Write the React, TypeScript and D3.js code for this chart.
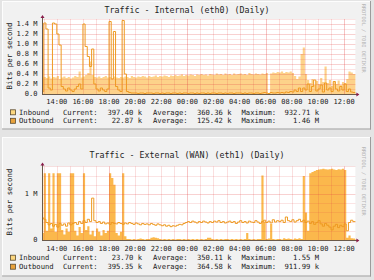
import React from "react";
import * as d3 from "d3";

// ---------- data (Mbit/s, 10‑minute samples starting 12:50) ----------
const SAMPLE_START_H = 12 + 50 / 60;
const SAMPLE_STEP_H = 1 / 6;
const VIEW_START_H = 12 + 52 / 60;
const VIEW_END_H = VIEW_START_H + 24;

const inInternal = [
  0.33, 0.34, 0.32, 0.35, 0.31, 0.34, 0.33,
  0.36, 0.30, 0.33, 0.35, 0.32, 0.34,
  0.31, 0.33, 0.36, 0.34, 0.45, 0.33,
  0.35, 0.38, 0.42, 0.65, 0.38, 0.34,
  0.33, 0.35, 0.32, 0.34, 0.36, 0.33,
  0.34, 0.31, 0.35, 0.33, 0.32, 0.34,
  0.33, 0.35, 0.34, 0.32, 0.36, 0.34,
  0.33, 0.35, 0.34, 0.36, 0.35, 0.33,
  0.36, 0.34, 0.35, 0.37, 0.34, 0.36,
  0.35, 0.37, 0.36, 0.34, 0.37, 0.36,
  0.38, 0.36, 0.37, 0.39, 0.36, 0.38,
  0.37, 0.39, 0.38, 0.36, 0.39, 0.38,
  0.40, 0.38, 0.39, 0.37, 0.40, 0.39,
  0.38, 0.41, 0.39, 0.40, 0.38, 0.41,
  0.39, 0.40, 0.38, 0.41, 0.39, 0.40,
  0.41, 0.39, 0.40, 0.38, 0.42, 0.40,
  0.39, 0.41, 0.40, 0.39, 0.41, 0.40,
  0.42, 0.00, 0.41, 0.43, 0.42, 0.44,
  0.43, 0.45, 0.42, 0.44, 0.43, 0.45,
  0.42, 0.36, 0.30, 0.35, 0.80, 0.93,
  0.40, 0.28, 0.22, 0.30, 0.18, 0.26,
  0.20, 0.32, 0.24, 0.55, 0.22, 0.28,
  0.16, 0.25, 0.20, 0.27, 0.18, 0.24,
  0.22, 0.30, 0.45, 0.43, 0.40, 0.40,
];

const outInternal = [
  0.05, 1.42, 1.30, 0.12, 0.08, 1.42, 1.40,
  1.20, 0.98, 0.15, 0.10, 0.06, 0.12,
  0.08, 0.05, 0.10, 0.15, 0.20, 0.10,
  1.40, 0.95, 0.75, 0.55, 0.90, 0.20,
  0.10, 0.06, 0.12, 0.08, 0.05, 0.10,
  1.45, 0.30, 1.25, 0.15, 0.08, 0.05,
  1.47, 0.40, 0.05, 0.03, 0.02, 0.02,
  0.02, 0.01, 0.02, 0.02, 0.01, 0.02,
  0.02, 0.02, 0.01, 0.02, 0.02, 0.01,
  0.02, 0.01, 0.02, 0.02, 0.01, 0.02,
  0.02, 0.01, 0.02, 0.01, 0.02, 0.02,
  0.01, 0.02, 0.02, 0.01, 0.02, 0.01,
  0.02, 0.02, 0.01, 0.02, 0.01, 0.02,
  0.02, 0.01, 0.02, 0.02, 0.01, 0.02,
  0.01, 0.02, 0.02, 0.01, 0.02, 0.02,
  0.02, 0.01, 0.02, 0.01, 0.02, 0.02,
  0.01, 0.02, 0.02, 0.01, 0.02, 0.03,
  0.02, 0.01, 0.03, 0.02, 0.02, 0.03,
  0.02, 0.03, 0.02, 0.04, 0.03, 0.05,
  0.04, 0.08, 0.05, 0.12, 0.05, 0.12,
  0.08, 0.20, 0.05, 0.15, 0.28, 0.06,
  0.10, 0.18, 0.04, 0.22, 0.08, 0.12,
  0.05, 0.25, 0.10, 0.06, 0.15, 0.08,
  0.20, 0.05, 0.10, 0.04, 0.03, 0.02,
];

const inWan = [
  0.15, 1.45, 0.20, 1.45, 0.25, 1.45, 0.18,
  1.45, 1.45, 0.22, 0.12, 0.25, 0.18,
  1.45, 1.45, 0.20, 0.10, 0.28, 0.15,
  1.45, 0.22, 0.30, 0.12, 0.20, 0.08,
  0.25, 0.18, 0.10, 0.22, 0.15, 0.20,
  1.45, 1.35, 1.20, 0.15, 0.10, 0.18,
  1.45, 0.08, 0.02, 0.02, 0.01, 0.02,
  0.01, 0.02, 0.03, 0.02, 0.01, 0.02,
  0.02, 0.05, 0.06, 0.05, 0.04, 0.02,
  0.01, 0.02, 0.01, 0.02, 0.01, 0.02,
  0.01, 0.02, 0.02, 0.01, 0.02, 0.01,
  0.02, 0.01, 0.02, 0.01, 0.02, 0.01,
  0.02, 0.01, 0.02, 0.05, 0.05, 0.02,
  0.01, 0.02, 0.01, 0.02, 0.01, 0.02,
  0.02, 0.01, 0.02, 0.01, 0.02, 0.01,
  0.02, 0.01, 0.02, 0.15, 0.02, 0.01,
  0.02, 0.01, 0.02, 0.02, 1.40, 0.40,
  0.02, 0.03, 0.35, 0.02, 0.01, 0.02,
  0.02, 0.01, 0.04, 0.02, 0.03, 0.02,
  0.01, 0.03, 0.02, 0.04, 0.02, 1.39,
  0.60, 0.20, 1.45, 1.48, 1.50, 1.52,
  1.53, 1.54, 1.55, 1.54, 1.53, 1.54,
  1.55, 1.53, 1.52, 1.54, 1.53, 1.55,
  1.52, 0.05, 0.10, 0.04, 0.03, 0.02,
];

const outWan = [
  0.48, 0.45, 0.38, 0.33, 0.36, 0.30, 0.34,
  0.28, 0.36, 0.32, 0.35, 0.30, 0.37,
  0.33, 0.36, 0.38, 0.34, 0.40, 0.36,
  0.42, 0.38, 0.45, 0.40, 0.91, 0.42,
  0.38, 0.40, 0.36, 0.39, 0.35, 0.37,
  0.34, 0.38, 0.36, 0.35, 0.38, 0.36,
  0.34, 0.37, 0.35, 0.38, 0.36, 0.34,
  0.37, 0.35, 0.33, 0.36, 0.34, 0.35,
  0.33, 0.36, 0.34, 0.32, 0.35, 0.33,
  0.31, 0.33, 0.30, 0.32, 0.29, 0.31,
  0.30, 0.32, 0.34, 0.33, 0.36, 0.38,
  0.40, 0.38, 0.41, 0.39, 0.37, 0.40,
  0.38, 0.41, 0.39, 0.37, 0.40, 0.38,
  0.41, 0.39, 0.42, 0.38, 0.40, 0.37,
  0.39, 0.41, 0.38, 0.40, 0.36, 0.39,
  0.42, 0.38, 0.40, 0.37, 0.41, 0.39,
  0.38, 0.42, 0.39, 0.36, 0.40, 0.43,
  0.38, 0.41, 0.37, 0.44, 0.39, 0.42,
  0.40, 0.43, 0.38, 0.50, 0.42, 0.40,
  0.44, 0.39, 0.42, 0.45, 0.40, 0.43,
  0.38, 0.41, 0.36, 0.40, 0.34, 0.38,
  0.42, 0.35, 0.30, 0.36, 0.32, 0.28,
  0.22, 0.30, 0.34, 0.27, 0.32, 0.29,
  0.35, 0.20, 0.38, 0.43, 0.40, 0.40,
];

const xLabelHours = [14, 16, 18, 20, 22, 24, 26, 28, 30, 32, 34, 36];
const xLabelTexts = ["14:00", "16:00", "18:00", "20:00", "22:00", "00:00", "02:00", "04:00", "06:00", "08:00", "10:00", "12:00"];

const yTickValsInternal = [0, 0.2, 0.4, 0.6, 0.8, 1.0, 1.2, 1.4];
const yTickTextsInternal = ["0.0", "0.2 M", "0.4 M", "0.6 M", "0.8 M", "1.0 M", "1.2 M", "1.4 M"];
const yTickValsWan = [0, 1];
const yTickTextsWan = ["0", "1 M"];

const legendNames = ["Inbound", "Outbound"];
const legendInternal = [
  ["397.40 k", "360.36 k", "932.71 k"],
  ["22.87 k", "125.42 k", "1.46 M"],
];
const legendWan = [
  ["23.70 k", "350.11 k", "1.55 M"],
  ["395.35 k", "364.58 k", "911.99 k"],
];

// ---------- drawing ----------
const MONO = "'DejaVu Sans Mono', 'Liberation Mono', monospace";
const PLOT_L = 42;
const PLOT_R = 355.4;

const xScale = d3.scaleLinear().domain([VIEW_START_H, VIEW_END_H]).range([PLOT_L, PLOT_R]);

type PanelCfg = {
  id: string;
  title: string;
  frameTop: number;
  frameBottom: number;
  plotTop: number;
  plotBottom: number;
  yMax: number;
  minorStep: number;
  majorStep: number;
  yTickVals: number[];
  yTickTexts: string[];
  inData: number[];
  outData: number[];
  inColor: string;
  titleY: number;
  xLabelY: number;
  legendY: number[];
  legendVals: string[][];
  wmY: number;
  yLabelCY: number;
};

function Panel({ c }: { c: PanelCfg }) {
  const y = d3.scaleLinear().domain([0, c.yMax]).range([c.plotBottom, c.plotTop]);
  const pts = (arr: number[]) => {
    const p = arr.map((v, i) => [SAMPLE_START_H + i * SAMPLE_STEP_H, v] as [number, number]);
    p.push([SAMPLE_START_H + arr.length * SAMPLE_STEP_H, arr[arr.length - 1]]);
    return p;
  };
  const area = d3
    .area<[number, number]>()
    .x((d) => xScale(d[0]))
    .y0(c.plotBottom)
    .y1((d) => y(d[1]))
    .curve(d3.curveStepAfter);
  const line = d3
    .line<[number, number]>()
    .x((d) => xScale(d[0]))
    .y((d) => y(d[1]))
    .curve(d3.curveStepAfter);

  const minorY = d3.range(c.minorStep, c.yMax + 1e-9, c.minorStep);
  const hours = d3.range(Math.ceil(VIEW_START_H), VIEW_END_H, 1);

  const legendCols = [63, 153, 241.5];
  const legendHead = ["Current:", "Average:", "Maximum:"];
  const valueRight = [142, 231.5, 319];
  const sqColors = ["#FCD77F", "#E9A23B"];

  return (
    <g>
      <rect x={2} y={c.frameTop} width={369} height={c.frameBottom - c.frameTop} fill="#F1F1F1" />
      <line x1={2} y1={c.frameTop + 0.5} x2={371} y2={c.frameTop + 0.5} stroke="#FDFDFD" />
      <line x1={2.5} y1={c.frameTop} x2={2.5} y2={c.frameBottom} stroke="#FDFDFD" />
      <line x1={2} y1={c.frameBottom - 0.5} x2={371} y2={c.frameBottom - 0.5} stroke="#9C9C9C" />
      <line x1={370.5} y1={c.frameTop} x2={370.5} y2={c.frameBottom} stroke="#9C9C9C" />

      <text x={187} y={c.titleY} fontFamily={MONO} fontSize={8.3} textAnchor="middle" fill="#222">
        {c.title}
      </text>

      <rect x={PLOT_L} y={c.plotTop} width={PLOT_R - PLOT_L} height={c.plotBottom - c.plotTop} fill="#FFFFFF" />
      <defs>
        <clipPath id={"clip-" + c.id}>
          <rect x={PLOT_L} y={c.plotTop - 1} width={PLOT_R - PLOT_L} height={c.plotBottom - c.plotTop + 1} />
        </clipPath>
      </defs>

      <g clipPath={`url(#clip-${c.id})`}>
        <path d={area(pts(c.inData)) || ""} fill={c.inColor} />
      </g>

      {/* grid (drawn over the area, translucent) */}
      {hours.map((h) => (
        <line
          key={"v" + h}
          x1={Math.round(xScale(h)) + 0.5}
          x2={Math.round(xScale(h)) + 0.5}
          y1={c.plotTop}
          y2={c.plotBottom}
          stroke="#E04040"
          strokeOpacity={h % 6 === 0 ? 0.3 : 0.17}
          strokeWidth={1}
        />
      ))}
      {minorY.map((v) => {
        const isMajor = Math.abs(v / c.majorStep - Math.round(v / c.majorStep)) < 1e-6;
        return (
          <line
            key={"h" + v}
            x1={PLOT_L}
            x2={PLOT_R}
            y1={Math.round(y(v)) + 0.5}
            y2={Math.round(y(v)) + 0.5}
            stroke="#E04040"
            strokeOpacity={isMajor ? 0.24 : 0.14}
            strokeWidth={1}
          />
        );
      })}

      <g clipPath={`url(#clip-${c.id})`}>
        <path d={line(pts(c.outData)) || ""} fill="none" stroke="#EE9A22" strokeWidth={1} />
      </g>

      {/* axes */}
      <line x1={PLOT_L} x2={PLOT_R + 2} y1={c.plotBottom + 0.5} y2={c.plotBottom + 0.5} stroke="#6B5A4A" />
      <line x1={PLOT_L + 0.5} x2={PLOT_L + 0.5} y1={c.plotBottom + 1} y2={c.plotTop - 2} stroke="#6B5A4A" />
      <path
        d={`M${PLOT_R + 4},${c.plotBottom + 0.5} L${PLOT_R + 1},${c.plotBottom - 1.5} L${PLOT_R + 1},${c.plotBottom + 2.5} Z`}
        fill="#8A1A4A"
      />
      <path
        d={`M${PLOT_L + 0.5},${c.plotTop - 4} L${PLOT_L - 1.5},${c.plotTop - 1} L${PLOT_L + 2.5},${c.plotTop - 1} Z`}
        fill="#8A1A4A"
      />

      {/* y labels */}
      {c.yTickVals.map((v, i) => (
        <text key={"yl" + i} x={37.5} y={y(v)} dy="0.35em" fontFamily={MONO} fontSize={7} textAnchor="end" fill="#222">
          {c.yTickTexts[i]}
        </text>
      ))}
      <text
        transform={`translate(9.8,${c.yLabelCY}) rotate(-90)`}
        fontFamily={MONO}
        fontSize={7.4}
        textAnchor="middle"
        dy="0.35em"
        fill="#222"
      >
        Bits per second
      </text>

      {/* x labels */}
      {xLabelHours.map((h, i) => (
        <text key={"xl" + i} x={xScale(h)} y={c.xLabelY} fontFamily={MONO} fontSize={7} textAnchor="middle" fill="#222">
          {xLabelTexts[i]}
        </text>
      ))}

      {/* watermark */}
      <text
        transform={`translate(361.5,${c.wmY}) rotate(90)`}
        fontFamily={MONO}
        fontSize={5.2}
        fill="#B4B4B4"
      >
        RRDTOOL / TOBI OETIKER
      </text>

      {/* legend */}
      {legendNames.map((name, r) => (
        <g key={"lg" + r}>
          <rect x={10.5} y={c.legendY[r] - 2.5} width={5} height={5} fill={sqColors[r]} stroke="#5A4A30" strokeWidth={0.8} />
          <text x={19} y={c.legendY[r]} dy="0.35em" fontFamily={MONO} fontSize={7.2} fill="#222">
            {name}
          </text>
          {legendHead.map((hd, k) => (
            <g key={k}>
              <text x={legendCols[k]} y={c.legendY[r]} dy="0.35em" fontFamily={MONO} fontSize={7.2} fill="#222">
                {hd}
              </text>
              <text
                x={valueRight[k]}
                y={c.legendY[r]}
                dy="0.35em"
                fontFamily={MONO}
                fontSize={7.2}
                textAnchor="end"
                fill="#222"
              >
                {c.legendVals[r][k]}
              </text>
            </g>
          ))}
        </g>
      ))}
    </g>
  );
}

const panelInternal: PanelCfg = {
  id: "int",
  title: "Traffic - Internal (eth0) (Daily)",
  frameTop: 1,
  frameBottom: 129.5,
  plotTop: 19,
  plotBottom: 94,
  yMax: 1.5,
  minorStep: 0.1,
  majorStep: 0.2,
  yTickVals: yTickValsInternal,
  yTickTexts: yTickTextsInternal,
  inData: inInternal,
  outData: outInternal,
  inColor: "#FDD28A",
  titleY: 12.5,
  xLabelY: 103.5,
  legendY: [112.3, 120.8],
  legendVals: legendInternal,
  wmY: 4,
  yLabelCY: 56,
};

const panelWan: PanelCfg = {
  id: "wan",
  title: "Traffic - External (WAN) (eth1) (Daily)",
  frameTop: 137,
  frameBottom: 276.5,
  plotTop: 166.4,
  plotBottom: 240,
  yMax: 1.6,
  minorStep: 0.2,
  majorStep: 1,
  yTickVals: yTickValsWan,
  yTickTexts: yTickTextsWan,
  inData: inWan,
  outData: outWan,
  inColor: "#FBB84C",
  titleY: 158,
  xLabelY: 250.5,
  legendY: [257.7, 266.7],
  legendVals: legendWan,
  wmY: 147,
  yLabelCY: 202,
};

export default function App() {
  return (
    <svg
      width={374}
      height={280}
      viewBox="0 0 374 280"
      style={{ position: "fixed", left: 0, top: 0, display: "block" }}
    >
      <rect x={0} y={0} width={374} height={280} fill="#E4E4E4" />
      <Panel c={panelInternal} />
      <Panel c={panelWan} />
    </svg>
  );
}
